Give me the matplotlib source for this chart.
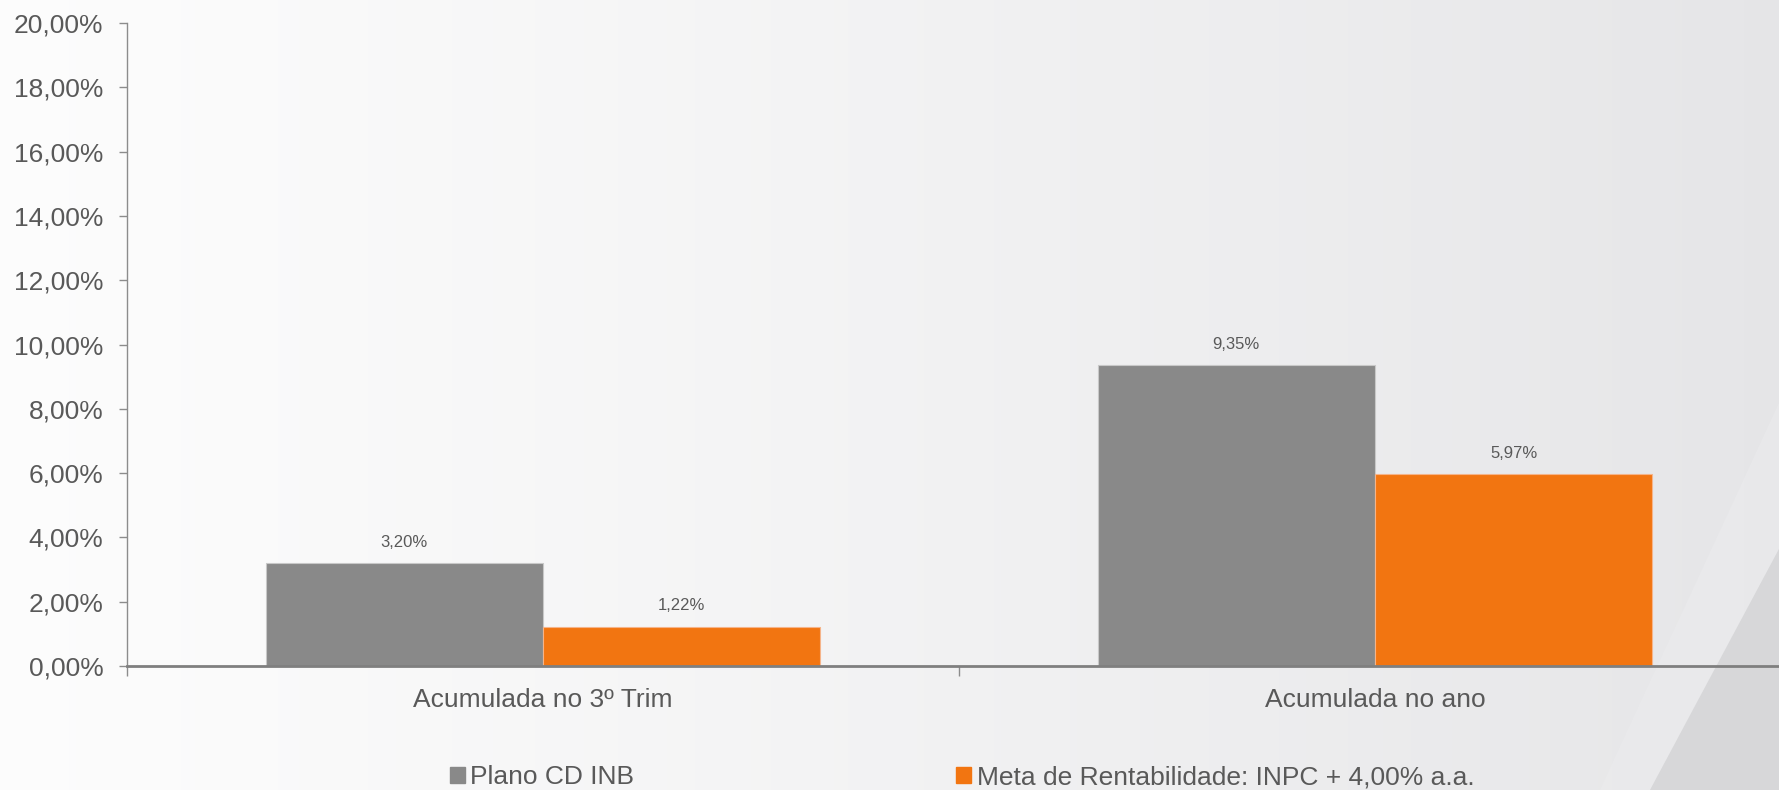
import matplotlib
matplotlib.use("Agg")
import matplotlib.pyplot as plt
import numpy as np
from matplotlib.patches import Polygon, Patch
from matplotlib.ticker import FixedLocator, FuncFormatter

categorias = ["Acumulada no 3º Trim", "Acumulada no ano"]
series = ["Plano CD INB", "Meta de Rentabilidade: INPC + 4,00% a.a."]
plano_cd = [3.20, 9.35]
meta = [1.22, 5.97]
cores = ["#898989", "#F27511"]
yticks = [0, 2, 4, 6, 8, 10, 12, 14, 16, 18, 20]

plt.rcParams['font.family'] = ['Liberation Sans', 'DejaVu Sans']
texto = "#595959"

W, H = 1779, 790
fig = plt.figure(figsize=(W / 100, H / 100), dpi=100)

# fundo em degrade, como no slide
bg = fig.add_axes([0, 0, 1, 1], zorder=-10)
grad = np.linspace(0, 1, 256).reshape(1, -1)
c0 = np.array([0.99, 0.99, 0.99])
c1 = np.array([0.90, 0.90, 0.908])
img = c0 + (c1 - c0) * grad[..., None] ** 1.2
bg.imshow(img, aspect='auto', extent=[0, W, 0, H], origin='lower')
bg.add_patch(Polygon([(1600, 0), (W, 387), (W, 241), (1650, 0)], closed=True, color="#ececee", lw=0, alpha=0.5))
bg.add_patch(Polygon([(1650, 0), (W, 241), (W, 0)], closed=True, color="#d7d7d9", lw=0))
bg.set_xlim(0, W)
bg.set_ylim(0, H)
bg.axis('off')

# eixo principal (ultrapassa um pouco a borda direita)
left, right, top, bottom = 127, 1791, 23, 666
ax = fig.add_axes([left / W, 1 - bottom / H, (right - left) / W, (bottom - top) / H])
ax.patch.set_alpha(0)

x = np.arange(len(categorias))
larg = 1 / 3
b1 = ax.bar(x - larg / 2, plano_cd, larg, color=cores[0], edgecolor="#c8c8c8", linewidth=0.8, label=series[0])
b2 = ax.bar(x + larg / 2, meta, larg, color=cores[1], edgecolor="#f5b48a", linewidth=0.8, label=series[1])

for barras in (b1, b2):
    for r in barras:
        v = r.get_height()
        ax.annotate(f"{v:.2f}%".replace(".", ","), (r.get_x() + r.get_width() / 2, v),
                    xytext=(0, 15), textcoords="offset points", ha="center", va="center",
                    fontsize=12, color=texto)

ax.set_xlim(-0.5, 1.5)
ax.set_ylim(0, 20)
ax.yaxis.set_major_locator(FixedLocator(yticks))
ax.yaxis.set_major_formatter(FuncFormatter(lambda v, p: f"{v:.2f}%".replace(".", ",")))
ax.set_xticks(x)
ax.set_xticklabels(categorias)
ax.set_xticks([-0.5, 0.5, 1.5], minor=True)
ax.tick_params(axis='x', which='major', length=0, pad=16, labelsize=19, labelcolor=texto)
ax.tick_params(axis='x', which='minor', length=7, width=1, color="#8c8c8c")
ax.tick_params(axis='y', length=6, width=1, color="#8c8c8c", pad=11, labelsize=19, labelcolor=texto)

for s in ("top", "right"):
    ax.spines[s].set_visible(False)
ax.spines["left"].set_color("#8c8c8c")
ax.spines["left"].set_linewidth(1)
ax.spines["bottom"].set_color("#7f7f7f")
ax.spines["bottom"].set_linewidth(2)

handles = [Patch(color=cores[0]), Patch(color=cores[1])]
fig.legend(handles, series, loc="center left", bbox_to_anchor=(450 / W, 1 - 777 / H),
           ncol=2, frameon=False, fontsize=19, handlelength=0.57, handleheight=0.57,
           handletextpad=0.2, columnspacing=12.2, labelcolor=texto, borderpad=0, borderaxespad=0)

fig.savefig("out.png", dpi=100)
